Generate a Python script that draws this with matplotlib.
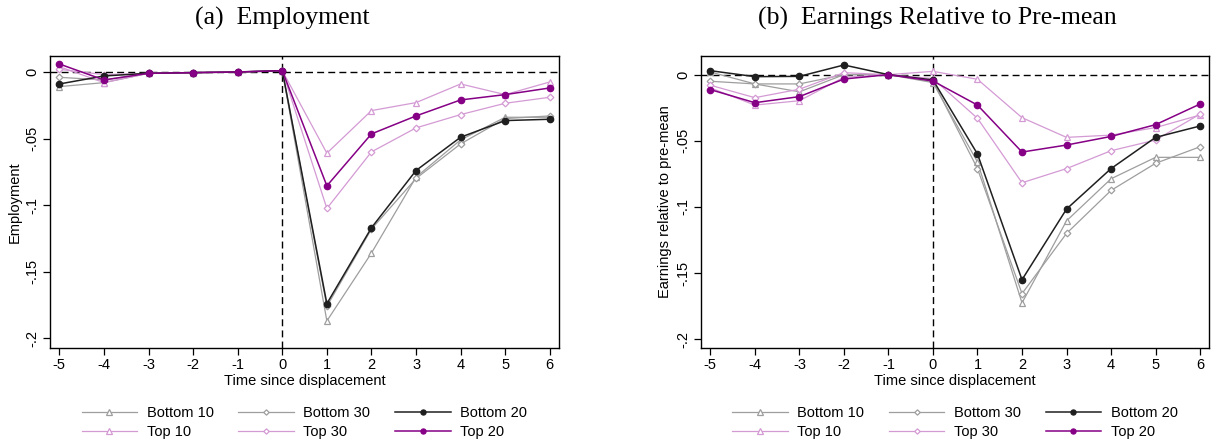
import numpy as np
import matplotlib.pyplot as plt
from matplotlib.lines import Line2D

plt.rcParams['font.family'] = ['Liberation Sans', 'DejaVu Sans']

years = [-5, -4, -3, -2, -1, 0, 1, 2, 3, 4, 5, 6]
year_labels = ['-5', '-4', '-3', '-2', '-1', '0', '1', '2', '3', '4', '5', '6']
y_ticks = [0, -0.05, -0.1, -0.15, -0.2]
y_labels = ['0', '-.05', '-.1', '-.15', '-.2']

# panel (a) employment
emp_b10 = [-0.011, -0.008, -0.001, -0.0005, 0.0, 0.001, -0.187, -0.136, -0.079, -0.051, -0.034, -0.034]
emp_b30 = [-0.004, -0.006, -0.001, -0.0005, 0.0, 0.001, -0.176, -0.118, -0.080, -0.054, -0.035, -0.033]
emp_b20 = [-0.009, -0.003, -0.001, -0.0005, 0.0, 0.001, -0.174, -0.117, -0.074, -0.049, -0.0365, -0.0355]
emp_t10 = [0.004, -0.008, -0.001, -0.0005, 0.0, 0.001, -0.061, -0.029, -0.023, -0.009, -0.017, -0.0075]
emp_t30 = [0.002, -0.002, -0.001, -0.0005, 0.0, 0.001, -0.1025, -0.060, -0.042, -0.032, -0.0235, -0.019]
emp_t20 = [0.006, -0.006, -0.001, -0.0005, 0.0, 0.001, -0.0855, -0.0465, -0.033, -0.021, -0.017, -0.012]

# panel (b) earnings relative to pre-mean
ear_b10 = [0.002, -0.007, -0.013, 0.000, 0.0, -0.006, -0.066, -0.1725, -0.1105, -0.0787, -0.0625, -0.0625]
ear_b30 = [-0.005, -0.007, -0.007, 0.000, 0.0, -0.005, -0.071, -0.1655, -0.120, -0.0875, -0.067, -0.0545]
ear_b20 = [0.003, -0.0015, -0.0013, 0.0073, 0.0, -0.004, -0.060, -0.155, -0.1016, -0.071, -0.0474, -0.0388]
ear_t10 = [-0.010, -0.023, -0.0197, -0.002, 0.0, 0.0025, -0.0035, -0.0325, -0.0474, -0.0457, -0.040, -0.0305]
ear_t30 = [-0.008, -0.0174, -0.011, 0.0015, 0.0, -0.003, -0.033, -0.0817, -0.071, -0.0575, -0.0494, -0.0298]
ear_t20 = [-0.0113, -0.0212, -0.0166, -0.0033, 0.0, -0.0048, -0.023, -0.0585, -0.0532, -0.0467, -0.0378, -0.0222]

gray = '#9e9e9e'
black = '#1f1f1f'
light = '#d49ad4'
purple = '#850085'

# name, color, marker, marker size, filled, line width
styles = {
    'Bottom 10': (gray, '^', 4.6, False, 0.9),
    'Bottom 30': (gray, 'D', 3.4, False, 0.9),
    'Top 10': (light, '^', 4.6, False, 0.9),
    'Top 30': (light, 'D', 3.4, False, 0.9),
    'Bottom 20': (black, 'o', 4.6, True, 1.1),
    'Top 20': (purple, 'o', 4.6, True, 1.1),
}


def draw_panel(ax, series, ylabel, ylim):
    ax.axhline(0, color='black', lw=1.0, ls=(0, (5, 3)), zorder=1)
    ax.axvline(0, color='black', lw=1.0, ls=(0, (5, 3)), zorder=1)
    for name, vals in series.items():
        c, m, ms, filled, lw = styles[name]
        ax.plot(years, vals, color=c, lw=lw, marker=m, ms=ms,
                mfc=c if filled else 'white', mec=c, mew=0.9, zorder=3)
    ax.set_xlim(-5.21, 6.2)
    ax.set_ylim(*ylim)
    ax.set_xticks(years, year_labels)
    ax.set_yticks(y_ticks, y_labels)
    ax.tick_params(axis='both', direction='out', length=5, width=0.9,
                   labelsize=10.5, pad=2.5, colors='black')
    for lab in ax.get_yticklabels():
        lab.set_rotation(90)
        lab.set_va('center')
    for sp in ax.spines.values():
        sp.set_linewidth(1.0)
    ax.set_xlabel('Time since displacement', fontsize=10.5, labelpad=1)
    ax.set_ylabel(ylabel, fontsize=10.5, labelpad=3)


fig = plt.figure(figsize=(12.11, 4.41), dpi=100)
ax1 = fig.add_axes([50 / 1211, 1 - 348 / 441, 508.7 / 1211, 292 / 441])
ax2 = fig.add_axes([701 / 1211, 1 - 348 / 441, 508 / 1211, 292 / 441])

draw_panel(ax1, {'Bottom 10': emp_b10, 'Bottom 30': emp_b30, 'Top 10': emp_t10,
                 'Top 30': emp_t30, 'Bottom 20': emp_b20, 'Top 20': emp_t20},
           'Employment', (-0.2073, 0.012))
draw_panel(ax2, {'Bottom 10': ear_b10, 'Bottom 30': ear_b30, 'Top 10': ear_t10,
                 'Top 30': ear_t30, 'Bottom 20': ear_b20, 'Top 20': ear_t20},
           'Earnings relative to pre-mean', (-0.2066, 0.0141))

# legend order fills column by column
order = ['Bottom 10', 'Top 10', 'Bottom 30', 'Top 30', 'Bottom 20', 'Top 20']
handles = []
for name in order:
    c, m, ms, filled, lw = styles[name]
    handles.append(Line2D([], [], color=c, lw=lw, marker=m, ms=ms * 0.8,
                          mfc=c if filled else 'white', mec=c, mew=0.9))

for ax in (ax1, ax2):
    ax.legend(handles, order, ncol=3, loc='upper center',
              bbox_to_anchor=(0.5, -0.18), frameon=False, fontsize=10.5,
              handlelength=3.8, handletextpad=0.65, columnspacing=1.7,
              labelspacing=0.3, borderaxespad=0)

fig.text(282 / 1211, 1 - 25 / 441, '(a)  Employment', ha='center', va='baseline',
         family=['Liberation Serif', 'DejaVu Serif'], fontsize=18.5)
fig.text(937 / 1211, 1 - 25 / 441, '(b)  Earnings Relative to Pre-mean', ha='center',
         va='baseline', family=['Liberation Serif', 'DejaVu Serif'], fontsize=18.5)

fig.savefig('out.png', dpi=100)
